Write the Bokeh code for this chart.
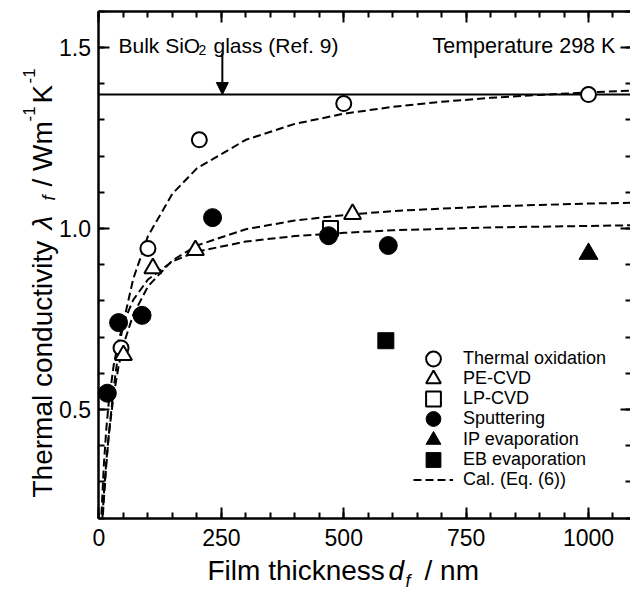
import math
from bokeh.plotting import figure
from bokeh.models import (Range1d, FixedTicker, LinearAxis, Arrow, NormalHead, Label,
                          Legend, LegendItem, PrintfTickFormatter, CustomJSTickFormatter)
from bokeh.embed import file_html
from bokeh.resources import INLINE

# ---------------- data ----------------
thermal_d = [45, 100, 205, 500, 1000]
thermal_k = [0.67, 0.945, 1.245, 1.345, 1.37]
pecvd_d = [50, 110, 197, 518]
pecvd_k = [0.65, 0.89, 0.94, 1.04]
lpcvd_d = [473]
lpcvd_k = [1.00]
sput_d = [17, 40, 88, 232, 469, 591]
sput_k = [0.545, 0.74, 0.76, 1.03, 0.98, 0.953]
ip_d = [1000]
ip_k = [0.93]
eb_d = [586]
eb_k = [0.69]

cal1_d = [8, 10, 15, 20, 30, 40, 50, 70, 100, 150, 200, 300, 400, 500, 600, 700, 800, 900, 1000, 1090]
cal1_k = [0.209, 0.252, 0.348, 0.429, 0.560, 0.661, 0.741, 0.861, 0.979, 1.096, 1.166, 1.245, 1.289,
          1.317, 1.336, 1.350, 1.361, 1.369, 1.376, 1.381]
cal2_d = [7, 10, 15, 20, 30, 40, 50, 70, 100, 150, 200, 300, 400, 500, 600, 700, 800, 900, 1000, 1090]
cal2_k = [0.202, 0.267, 0.358, 0.430, 0.540, 0.619, 0.679, 0.762, 0.840, 0.912, 0.953, 0.998, 1.022,
          1.037, 1.048, 1.055, 1.061, 1.065, 1.069, 1.071]
cal3_d = [5, 10, 15, 20, 30, 40, 50, 70, 100, 150, 200, 300, 400, 500, 600, 700, 800, 900, 1000, 1090]
cal3_k = [0.210, 0.348, 0.447, 0.520, 0.622, 0.690, 0.739, 0.803, 0.859, 0.909, 0.936, 0.964, 0.979,
          0.988, 0.995, 0.999, 1.003, 1.005, 1.007, 1.009]

bulk_k = 1.37
arrow_d = 252
arrow_k_start = 1.485

x_major = [0, 250, 500, 750, 1000]
x_minor = [50 * i for i in range(0, 22)]
y_major = [0.5, 1.0, 1.5]
y_minor = [round(0.2 + 0.1 * i, 1) for i in range(0, 15)]

# axis box limits (data units) and the visible window around them
X0, X1 = 0, 1088.5
Y0, Y1 = 0.2, 1.6

FONT = "Liberation Sans"
W, H = 630, 593

p = figure(width=W, height=H, x_range=Range1d(-201.2, 1085.8), y_range=Range1d(-0.0083, 1.6298),
           output_backend="svg", toolbar_location=None,
           min_border_left=0, min_border_right=0, min_border_top=0, min_border_bottom=0)
p.xgrid.visible = False
p.ygrid.visible = False
p.outline_line_color = None
p.background_fill_color = "white"
p.border_fill_color = "white"

xt = FixedTicker(ticks=x_major, minor_ticks=x_minor)
yt = FixedTicker(ticks=y_major, minor_ticks=y_minor)


def style_axis(ax, labels=True):
    ax.major_tick_in = 11
    ax.major_tick_out = 0
    ax.minor_tick_in = 6
    ax.minor_tick_out = 0
    ax.axis_line_width = 2.5
    ax.major_tick_line_width = 2
    ax.minor_tick_line_width = 2
    ax.axis_line_color = "black"
    ax.major_tick_line_color = "black"
    ax.minor_tick_line_color = "black"
    ax.major_label_text_font = FONT
    ax.major_label_text_font_size = "23px"
    ax.major_label_text_color = "black"
    if not labels:
        ax.formatter = CustomJSTickFormatter(code="return ''")
        ax.major_label_standoff = 0


xa = p.xaxis[0]
xa.ticker = xt
xa.fixed_location = Y0
xa.bounds = (X0, X1)
style_axis(xa)
xa.major_label_standoff = 11

ya = p.yaxis[0]
ya.ticker = yt
ya.formatter = PrintfTickFormatter(format="%.1f")
ya.fixed_location = X0
ya.bounds = (Y0, Y1)
style_axis(ya)
ya.major_label_standoff = 8

top = LinearAxis(ticker=xt, fixed_location=Y1, bounds=(X0, X1))
style_axis(top, labels=False)
p.add_layout(top, "above")
right = LinearAxis(ticker=yt, fixed_location=X1, bounds=(Y0, Y1))
style_axis(right, labels=False)
p.add_layout(right, "right")

# bulk reference line and arrow
p.segment(x0=[X0], y0=[bulk_k], x1=[X1], y1=[bulk_k], line_color="black", line_width=2)
p.add_layout(Arrow(end=NormalHead(size=12, fill_color="black", line_color="black"),
                   x_start=arrow_d, y_start=arrow_k_start, x_end=arrow_d, y_end=bulk_k,
                   line_color="black", line_width=2))

# calculated curves
dash = "8 4"
c1 = p.line(cal1_d, cal1_k, line_color="black", line_width=2, line_dash=dash)
p.line(cal2_d, cal2_k, line_color="black", line_width=2, line_dash=dash)
p.line(cal3_d, cal3_k, line_color="black", line_width=2, line_dash=dash)

# data points
r_th = p.scatter(thermal_d, thermal_k, marker="circle", size=15, fill_color="white",
                 line_color="black", line_width=2)
r_pe = p.scatter(pecvd_d, pecvd_k, marker="triangle", size=17, fill_color="white",
                 line_color="black", line_width=2)
r_lp = p.scatter(lpcvd_d, lpcvd_k, marker="square", size=15, fill_color="white",
                 line_color="black", line_width=2)
r_sp = p.scatter(sput_d, sput_k, marker="circle", size=18, fill_color="black",
                 line_color="black", line_width=1)
r_ip = p.scatter(ip_d, ip_k, marker="triangle", size=19, fill_color="black",
                 line_color="black", line_width=1)
r_eb = p.scatter(eb_d, eb_k, marker="square", size=16, fill_color="black",
                 line_color="black", line_width=1)

# legend: one single-row legend per entry so that keys can be large but rows tight
legend_entries = [("Thermal oxidation", r_th), ("PE-CVD", r_pe), ("LP-CVD", r_lp),
                  ("Sputtering", r_sp), ("IP evaporation", r_ip), ("EB evaporation", r_eb),
                  ("Cal. (Eq. (6))", c1)]
row_top_center = 358.0
row_step = 20.3
key_h = 37
for i, (name, rend) in enumerate(legend_entries):
    cy = row_top_center + i * row_step
    lg = Legend(items=[LegendItem(label=name, renderers=[rend])],
                location=(413, H - (cy + key_h / 2)), glyph_width=40, glyph_height=key_h,
                label_height=18, label_standoff=10, padding=0, margin=0, spacing=0,
                border_line_color=None, background_fill_alpha=0,
                label_text_font=FONT, label_text_font_size="18px", label_text_color="black")
    p.add_layout(lg)


def lab(text, x, y, size, style="normal", angle=0.0, baseline="alphabetic"):
    p.add_layout(Label(x=x, y=H - y, x_units="screen", y_units="screen", text=text,
                       text_font=FONT, text_font_size=size, text_font_style=style,
                       text_color="black", text_align="left", text_baseline=baseline,
                       angle=angle))


# texts inside the box (x, baseline y in pixels from the top-left)
lab("Bulk SiO", 118, 45, "21px")
lab("2", 198, 49, "14px")
lab("glass (Ref. 9)", 213, 45, "21px")
lab("Temperature 298 K", 432, 45, "21.5px")

# x axis title (placed by the middle of the text line)
lab("Film thickness", 207, 570, "28px", baseline="middle")
lab("d", 388, 570, "28px", "italic", baseline="middle")
lab("f", 405, 580, "18px", "italic", baseline="middle")
lab("/ nm", 424, 570, "28px", baseline="middle")

# y axis title (rotated)
A = math.pi / 2
lab("Thermal conductivity", 42, 497, "28px", angle=A)
lab("\u03bb", 42, 229, "28px", "italic", angle=A)
lab("f", 48, 200, "18px", "italic", angle=A)
lab("/ Wm", 42, 186, "28px", angle=A)
lab("-1", 28, 121, "17px", angle=A)
lab("K", 42, 103, "28px", angle=A)
lab("-1", 28, 83, "17px", angle=A)

open("out.html", "w").write(file_html(p, INLINE))
